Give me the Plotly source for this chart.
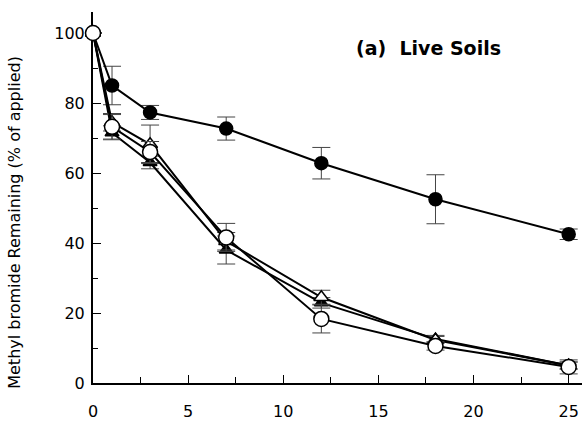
import plotly.graph_objects as go

# Sampling days and remaining methyl bromide (% of applied)
days = [0, 1, 3, 7, 12, 18, 25]

filled_circle = [100, 85.0, 77.3, 72.7, 62.8, 52.5, 42.5]
filled_circle_err = [None, 5.5, 2.0, 3.3, 4.5, 7.0, 1.5]

filled_triangle = [100, 71.5, 63.0, 38.0, 22.9, 12.6, 5.0]
filled_triangle_err = [None, 2.0, 1.8, 4.0, 1.5, 1.0, 1.0]

open_triangle = [100, 74.5, 68.2, 40.5, 24.5, 12.3, 5.0]
open_triangle_err = [None, 2.5, 5.5, 2.5, 2.0, 1.0, 1.0]

open_circle = [100, 73.2, 66.0, 41.6, 18.3, 10.6, 4.6]
open_circle_err = [None, 3.5, 3.0, 4.0, 4.0, 1.2, 2.0]

series = [
    (filled_circle, filled_circle_err, "circle", "black", 13),
    (filled_triangle, filled_triangle_err, "triangle-up", "black", 12),
    (open_triangle, open_triangle_err, "triangle-up", "white", 13),
    (open_circle, open_circle_err, "circle", "white", 15),
]

fig = go.Figure()
for vals, errs, symbol, fill, size in series:
    fig.add_trace(go.Scatter(
        x=days, y=vals,
        mode="lines+markers",
        line=dict(color="black", width=2),
        marker=dict(symbol=symbol, size=size, color=fill,
                    line=dict(color="black", width=1.5)),
        error_y=dict(type="data", array=errs, visible=True,
                     color="#444444", thickness=1, width=9),
        showlegend=False,
        cliponaxis=False,
    ))

font_family = "DejaVu Sans, Arial, sans-serif"

fig.update_layout(
    width=582, height=422,
    margin=dict(l=93, r=0, t=12, b=39),
    paper_bgcolor="white", plot_bgcolor="white",
    font=dict(family=font_family, size=16, color="black"),
    xaxis=dict(
        range=[0, 25.7], tick0=0, dtick=5,
        ticks="inside", ticklen=8, tickwidth=1, tickcolor="black",
        minor=dict(dtick=2.5, ticks="inside", ticklen=6, tickcolor="black", tickwidth=1),
        showline=True, linecolor="black", linewidth=2,
        showgrid=False, zeroline=False,
        tickfont=dict(size=16),
        ticklabelstandoff=13,
        layer="below traces",
    ),
    yaxis=dict(
        range=[0, 106], tick0=0, dtick=20,
        ticks="inside", ticklen=8, tickwidth=1, tickcolor="black",
        minor=dict(dtick=10, ticks="inside", ticklen=5, tickcolor="black", tickwidth=1),
        showline=True, linecolor="black", linewidth=2,
        showgrid=False, zeroline=False,
        tickfont=dict(size=16),
        ticklabelstandoff=3,
        layer="below traces",
    ),
    annotations=[
        dict(text="Methyl bromide Remaining (% of applied)",
             xref="paper", yref="y", x=-0.162, y=46,
             textangle=-90, showarrow=False,
             xanchor="center", yanchor="middle",
             font=dict(size=16, family=font_family)),
        dict(text="<b>(a)  Live Soils</b>",
             xref="x", yref="y", x=17.65, y=95.7,
             showarrow=False, xanchor="center", yanchor="middle",
             font=dict(size=19, family=font_family)),
    ],
)

fig.write_html("out.html")
